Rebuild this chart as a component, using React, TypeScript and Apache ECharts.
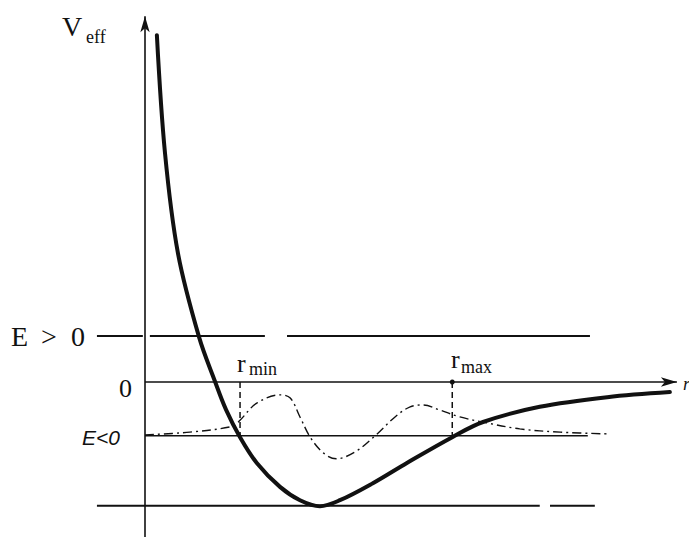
import React, { useEffect, useRef } from "react";
import * as echarts from "echarts";

// Effective potential curve V_eff(r) (arbitrary units)
const R_CURVE = [0.22, 0.37, 0.61, 1.0, 1.3, 1.5, 1.76, 2.07, 2.5, 2.87, 3.24, 3.61, 4.22, 4.85, 5.69, 6.26, 7.31, 8.56, 9.72];
const V_CURVE = [7.54, 4.98, 2.8, 0.98, 0, -0.6, -1.2, -1.76, -2.28, -2.57, -2.7, -2.57, -2.2, -1.76, -1.2, -0.87, -0.54, -0.33, -0.22];

// Dash-dot wave function sketch
const R_WAVE = [0, 0.83, 1.63, 1.76, 2.07, 2.5, 2.69, 2.87, 3.06, 3.3, 3.54, 3.89, 4.26, 4.63, 4.91, 5.15, 5.46, 5.83, 6.33, 6.94, 7.69, 8.61];
const V_WAVE = [-1.15, -1.09, -0.96, -0.83, -0.46, -0.28, -0.35, -0.76, -1.2, -1.54, -1.67, -1.52, -1.17, -0.76, -0.54, -0.5, -0.61, -0.76, -0.89, -1.02, -1.09, -1.13];

// Energy levels
const V_EPOS = 1.0;
const V_ENEG = -1.17;
const V_BOTTOM = -2.69;
const EPOS_SEGMENTS = [[-0.89, -0.04], [0.09, 2.22], [2.63, 8.24]];
const ENEG_RANGE = [0, 8.2];
const BOTTOM_SEGMENTS = [[-0.89, 7.31], [7.5, 8.33]];
const ZERO_RANGE = [0, 9.85];
const YAXIS_RANGE = [-3.37, 7.95];

// Turning points
const R_MIN = 1.76;
const R_MAX = 5.69;

const INK = "#111";

export default function App() {
  const ref = useRef<HTMLDivElement>(null);
  useEffect(() => {
    if (!ref.current) return;
    const chart = echarts.init(ref.current, null, { renderer: "svg" });

    const seg = (name: string, a: number, b: number, v: number, w: number) => ({
      type: "line",
      name,
      data: [[a, v], [b, v]],
      symbol: "none",
      silent: true,
      lineStyle: { color: INK, width: w },
    });

    const series: any[] = [];
    EPOS_SEGMENTS.forEach((s, i) => series.push(seg("Epos" + i, s[0], s[1], V_EPOS, 1.8)));
    series.push(seg("Eneg", ENEG_RANGE[0], ENEG_RANGE[1], V_ENEG, 1.6));
    BOTTOM_SEGMENTS.forEach((s, i) => series.push(seg("Bottom" + i, s[0], s[1], V_BOTTOM, 2)));

    // axes with arrows
    series.push({
      type: "line",
      name: "axes",
      data: [],
      silent: true,
      clip: false,
      markLine: {
        silent: true,
        symbol: ["none", "arrow"],
        symbolSize: [7, 16],
        label: { show: false },
        lineStyle: { color: INK, width: 1.6, type: "solid" },
        data: [
          [{ coord: [ZERO_RANGE[0], 0] }, { coord: [ZERO_RANGE[1], 0] }],
          [{ coord: [0, YAXIS_RANGE[0]] }, { coord: [0, YAXIS_RANGE[1]] }],
        ],
      },
    });

    // turning-point dashed verticals
    series.push({
      type: "line",
      name: "rmin",
      data: [[R_MIN, 0], [R_MIN, V_ENEG]],
      symbol: "none",
      silent: true,
      lineStyle: { color: INK, width: 1.5, type: [6, 4] },
    });
    series.push({
      type: "line",
      name: "rmax",
      data: [
        { value: [R_MAX, 0], symbol: "circle", symbolSize: 5 },
        { value: [R_MAX, V_ENEG], symbol: "none" },
      ],
      showSymbol: true,
      silent: true,
      itemStyle: { color: INK },
      lineStyle: { color: INK, width: 1.5, type: [6, 4] },
    });

    // wave
    series.push({
      type: "line",
      name: "wave",
      data: R_WAVE.map((r, i) => [r, V_WAVE[i]]),
      symbol: "none",
      smooth: 0.35,
      silent: true,
      lineStyle: { color: INK, width: 1.4, type: [9, 4, 2, 4] },
    });

    // V_eff
    series.push({
      type: "line",
      name: "Veff",
      data: R_CURVE.map((r, i) => [r, V_CURVE[i]]),
      symbol: "none",
      smooth: 0.35,
      silent: true,
      lineStyle: { color: INK, width: 4, cap: "round" },
    });

    const serif = '"Liberation Serif", "DejaVu Serif", serif';
    const txt = (text: string, x: number, y: number, size: number, family: string, style = "normal") => ({
      type: "text",
      x,
      y,
      silent: true,
      style: {
        text,
        font: `${style} ${size}px ${family}`,
        fill: INK,
        align: "left",
        verticalAlign: "middle",
      },
    });

    chart.setOption({
      animation: false,
      backgroundColor: "#fff",
      grid: { left: 10, right: 4, top: 14, bottom: 0 },
      xAxis: { type: "value", min: -2.5, max: 10, show: false },
      yAxis: { type: "value", min: -3.37, max: 8, show: false },
      series,
      graphic: [
        txt("V", 62, 26, 28, serif),
        txt("eff", 86, 37, 18, serif),
        txt("E", 11, 336, 28, serif),
        txt(">", 41, 336, 28, serif),
        txt("0", 71, 336, 28, serif),
        txt("0", 119, 388, 26, serif),
        txt("E<0", 82, 437, 21, '"Liberation Sans", sans-serif', "italic"),
        txt("r", 237, 363, 26, serif),
        txt("min", 249, 369, 18, serif),
        txt("r", 451, 359, 26, serif),
        txt("max", 461, 367, 18, serif),
        txt("r", 683, 384, 18, serif, "italic"),
      ],
    });
    return () => chart.dispose();
  }, []);
  return (
    <div
      ref={ref}
      style={{ position: "absolute", left: 0, top: 0, width: 689, height: 537, background: "#fff" }}
    />
  );
}
